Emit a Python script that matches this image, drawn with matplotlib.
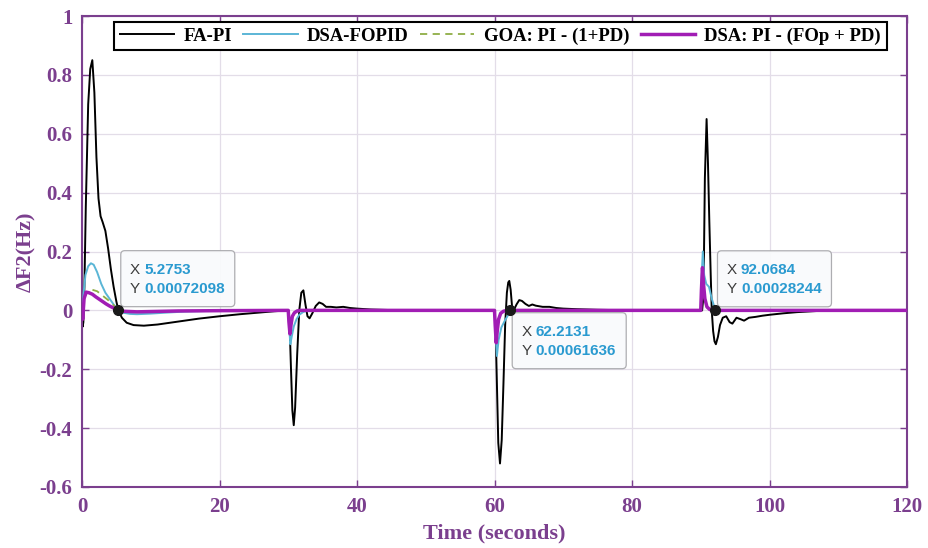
import numpy as np
import matplotlib
matplotlib.use("Agg")
import matplotlib.pyplot as plt
from matplotlib.patches import FancyBboxPatch
from matplotlib.transforms import ScaledTranslation

# frequency deviation in area 2 (Hz) for each controller, load steps at 30/60/90 s
t_fa = [0, 0.1, 0.2, 0.35, 0.55, 0.9, 1.2, 1.5, 1.8, 2.1, 2.4, 2.7, 3.0, 3.4, 3.8, 4.2, 4.6, 5.0, 5.3,
        5.8, 6.5, 7.5, 9.0, 11, 14, 17, 20, 23, 26, 28, 30,
        30.2, 30.4, 30.6, 30.8, 31.0, 31.3, 31.6, 31.9, 32.2, 32.5, 32.8, 33.1, 33.5, 34.0, 34.5,
        35.0, 35.5, 36.2, 37.0, 38, 39, 40, 42, 45, 50, 60,
        60.15, 60.35, 60.55, 60.8, 61.05, 61.3, 61.55, 61.8, 62.0, 62.15, 62.35, 62.6, 62.9, 63.2,
        63.6, 64.0, 64.5, 65, 65.5, 66, 67, 68, 69, 70, 72, 75, 80, 90,
        90.2, 90.4, 90.6, 90.85, 91.05, 91.25, 91.45, 91.6, 91.8, 92.0, 92.2, 92.5, 92.8, 93.2, 93.7,
        94.2, 94.6, 95.2, 95.8, 96.3, 97, 98, 99, 100, 102, 104, 107, 110, 120]
v_fa = [0, -0.055, -0.04, 0.08, 0.35, 0.7, 0.82, 0.85, 0.74, 0.52, 0.38, 0.32, 0.30, 0.27, 0.21, 0.14, 0.08, 0.03, 0.0,
        -0.025, -0.042, -0.05, -0.052, -0.048, -0.038, -0.028, -0.02, -0.013, -0.007, -0.003, 0,
        -0.05, -0.2, -0.34, -0.39, -0.33, -0.15, 0.0, 0.06, 0.068, 0.02, -0.02, -0.027, -0.01, 0.015, 0.027,
        0.022, 0.012, 0.012, 0.01, 0.012, 0.008, 0.006, 0.003, 0.001, 0, 0,
        -0.05, -0.25, -0.45, -0.52, -0.44, -0.25, -0.05, 0.06, 0.095, 0.1, 0.07, 0.0, 0.005, 0.02,
        0.035, 0.032, 0.022, 0.015, 0.02, 0.016, 0.012, 0.012, 0.008, 0.006, 0.004, 0.002, 0, 0,
        0.0, 0.05, 0.45, 0.65, 0.5, 0.3, 0.12, 0.0, -0.07, -0.105, -0.115, -0.09, -0.05, -0.025, -0.02,
        -0.04, -0.045, -0.025, -0.03, -0.035, -0.025, -0.022, -0.018, -0.015, -0.01, -0.006, -0.002, 0, 0]

t_fopid = [0, 0.2, 0.5, 0.9, 1.3, 1.7, 2.2, 2.8, 3.4, 4.0, 4.6, 5.3, 6, 7, 8, 10, 12, 15, 20, 30,
           30.15, 30.3, 30.5, 30.8, 31.2, 31.6, 32.2, 33, 60,
           60.15, 60.35, 60.6, 61.0, 61.5, 62.0, 62.5, 63, 90,
           90.1, 90.3, 90.5, 90.8, 91.2, 91.6, 92.0, 92.5, 120]
v_fopid = [0, 0.05, 0.12, 0.15, 0.16, 0.155, 0.13, 0.09, 0.06, 0.04, 0.02, 0.0, -0.008, -0.012, -0.013, -0.011, -0.008, -0.004, -0.001, 0,
           -0.06, -0.115, -0.09, -0.055, -0.03, -0.015, -0.005, 0, 0,
           -0.08, -0.155, -0.1, -0.058, -0.035, -0.015, -0.005, 0, 0,
           0.1, 0.2, 0.12, 0.09, 0.08, 0.04, 0.01, 0, 0]

t_goa = [0, 0.3, 0.8, 1.5, 2.2, 3.0, 3.8, 4.5, 5.3, 6, 8, 12, 30,
         30.1, 30.25, 30.4, 30.6, 30.9, 31.3, 31.8, 60,
         60.1, 60.25, 60.4, 60.6, 60.9, 61.3, 61.8, 90,
         90.1, 90.25, 90.4, 90.6, 90.9, 91.3, 91.8, 120]
v_goa = [0, 0.04, 0.065, 0.07, 0.065, 0.05, 0.035, 0.02, 0.0, -0.004, -0.005, -0.002, 0,
         -0.035, -0.07, -0.045, -0.02, -0.008, -0.002, 0, 0,
         -0.045, -0.1, -0.065, -0.03, -0.01, -0.003, 0, 0,
         0.06, 0.13, 0.08, 0.035, 0.01, 0.003, 0, 0]

t_dsa = [0, 0.1, 0.3, 0.6, 1.0, 1.5, 2.0, 2.5, 3.0, 3.5, 4.0, 4.5, 5.0, 5.3, 6, 8, 10, 14, 20, 30,
         30.1, 30.25, 30.4, 30.6, 30.9, 31.3, 31.8, 60,
         60.1, 60.25, 60.4, 60.6, 60.9, 61.3, 61.8, 90,
         90.1, 90.25, 90.4, 90.6, 90.9, 91.3, 91.8, 120]
v_dsa = [0, -0.03, 0.04, 0.062, 0.06, 0.055, 0.046, 0.038, 0.03, 0.022, 0.015, 0.009, 0.003, 0.0, -0.003, -0.005, -0.004, -0.002, -0.001, 0,
         -0.04, -0.08, -0.05, -0.02, -0.008, -0.002, 0, 0,
         -0.05, -0.11, -0.07, -0.03, -0.01, -0.003, 0, 0,
         0.07, 0.145, 0.09, 0.04, 0.012, 0.003, 0, 0]

# data tips
tips_x = [5.2753, 62.2131, 92.0684]
tips_y = [0.00072098, 0.00061636, 0.00028244]
tips_below = [False, True, False]

PURPLE = "#7b3f8e"
SERIF = ["Liberation Serif", "DejaVu Serif"]

fig = plt.figure(figsize=(9.29, 5.48), dpi=100)
ax = fig.add_axes([82 / 929, 61 / 548, 825 / 929, 471 / 548])

h_fa, = ax.plot(t_fa, v_fa, color="black", lw=1.4, zorder=2, label="FA-PI")
h_fo, = ax.plot(t_fopid, v_fopid, color="#5bb6d6", lw=1.4, zorder=3, label="DSA-FOPID")
h_goa, = ax.plot(t_goa, v_goa, color="#8fae45", lw=1.3, ls=(0, (4, 3)), zorder=4, label="GOA: PI - (1+PD)")
h_dsa, = ax.plot(t_dsa, v_dsa, color="#a11db4", lw=2.5, zorder=5, label="DSA: PI - (FOp + PD)")

ax.set_xlim(0, 120)
ax.set_ylim(-0.6, 1)
yt = np.round(np.arange(-0.6, 1.01, 0.2), 1)
ax.set_xticks(np.arange(0, 121, 20))
ax.set_yticks(yt)
ax.set_yticklabels([f"{v:g}" for v in yt])
ax.grid(True, color="#e3dde8", lw=0.9)
ax.set_axisbelow(True)
ax.tick_params(direction="in", length=5, width=1, colors=PURPLE, top=True, right=True,
               labelsize=15, pad=7)
for lbl in ax.get_xticklabels() + ax.get_yticklabels():
    lbl.set_family(SERIF)
    lbl.set_fontweight("bold")
for s in ax.spines.values():
    s.set_color(PURPLE)
    s.set_linewidth(1.5)

ax.set_xlabel("Time (seconds)", fontsize=16, fontweight="bold", family=SERIF, color=PURPLE, labelpad=5)
ax.set_ylabel("ΔF2(Hz)", fontsize=16, fontweight="bold", family=SERIF, color=PURPLE, labelpad=2)

leg = ax.legend(handles=[h_fa, h_fo, h_goa, h_dsa], loc="upper center", bbox_to_anchor=(0.507, 0.988),
                borderaxespad=0, ncol=4, fancybox=False, framealpha=1, edgecolor="black",
                handlelength=2.9, handletextpad=0.5, columnspacing=0.6, borderpad=0.3,
                prop=dict(family=SERIF, weight="bold", size=13.5))
leg.get_frame().set_linewidth(1.5)
leg.set_zorder(10)

# datatip boxes, sized in inches from the tip point
for x, y, below in zip(tips_x, tips_y, tips_below):
    off = fig.dpi_scale_trans + ScaledTranslation(x, y, ax.transData)
    x0 = 0.025
    y0 = -0.585 if below else 0.035
    box = FancyBboxPatch((x0, y0), 1.14, 0.56, boxstyle="round,pad=0,rounding_size=0.04",
                         transform=off, facecolor="#f9fafc", edgecolor="#a9a9ad", lw=0.9,
                         alpha=0.95, zorder=11)
    ax.add_patch(box)
    for dy, name, val in [(0.365, "X", x), (0.175, "Y", y)]:
        ax.text(x0 + 0.09, y0 + dy, name, transform=off, fontsize=11, color="#3c3c3c",
                family="Liberation Sans", va="center", ha="left", zorder=12)
        ax.text(x0 + 0.235, y0 + dy, f"{val:g}", transform=off, fontsize=11, color="#2a9ad0",
                family="Liberation Sans", fontweight="bold", va="center", ha="left", zorder=12)
    ax.plot(x, y, "o", color="#1a1a1a", ms=7, zorder=13, clip_on=False)

fig.savefig("out.png", dpi=100)
